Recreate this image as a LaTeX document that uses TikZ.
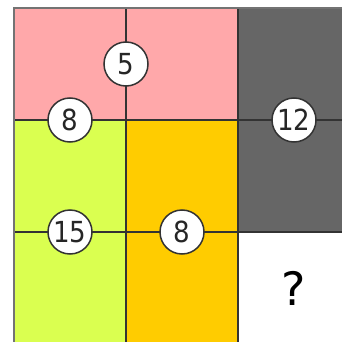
\documentclass[tikz,border=0pt]{standalone}
\usepackage{fontspec}
\setmainfont{DejaVu Sans}
\newfontfamily\condfont{DejaVu Sans Condensed}
\definecolor{pinkc}{HTML}{FFA8AA}
\definecolor{greenc}{HTML}{DAFF50}
\definecolor{orangec}{HTML}{FFCC00}
\definecolor{grayc}{HTML}{666666}
\definecolor{linec}{HTML}{333333}
\begin{document}
\begin{tikzpicture}[x=1pt,y=-1pt,
  gridline/.style={draw=linec,line width=1.3pt},
  numcirc/.style={circle,draw=linec,fill=white,line width=1.5pt,minimum size=44pt,inner sep=0pt,font=\condfont\fontsize{29}{29}\selectfont,text=black!85}]
\useasboundingbox (0,0) rectangle (342,342);
\begin{scope}
\clip (0,0) rectangle (342,342);
\fill[pinkc] (14,8) rectangle (238,120);
\fill[grayc] (238,8) rectangle (350,232);
\fill[greenc] (14,120) rectangle (126,344);
\fill[orangec] (126,120) rectangle (238,344);
\fill[white] (238,232) rectangle (350,344);
\foreach \x in {126,238} \draw[gridline] (\x,8) -- (\x,344);
\foreach \y in {120,232} \draw[gridline] (14,\y) -- (350,\y);
\draw[draw=black!55,line width=1.3pt] (14,344) -- (14,8) -- (350,8);
\draw[gridline] (350,8) -- (350,344) -- (14,344);
\end{scope}
\node[numcirc] (a) at (126,64) {5};
\node[numcirc] (b) at (70,120) {8};
\node[numcirc] (c) at (294,120) {12};
\node[numcirc] (d) at (70,232) {15};
\node[numcirc] (e) at (182,232) {8};
\node[font=\fontsize{46}{46}\selectfont,text=black] (q) at (294,288) {?};
\end{tikzpicture}
\end{document}
